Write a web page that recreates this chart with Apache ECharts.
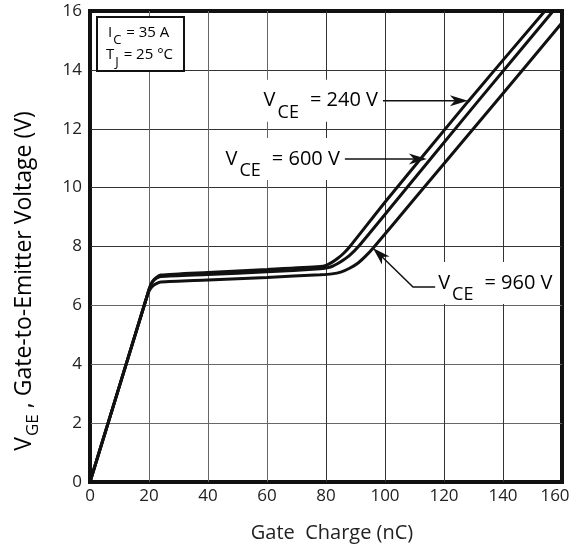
<!DOCTYPE html>
<html><head><meta charset="utf-8">
<script src="https://cdn.jsdelivr.net/npm/echarts@6/dist/echarts.min.js"></script>
<style>html,body{margin:0;padding:0;background:#fff}#c{width:584px;height:548px}</style>
</head><body><div id="c"></div>
<script>
// ---- data ----
const xMin = 0, xMax = 160, xStep = 20;
const yMin = 0, yMax = 16, yStep = 2;
const xTitle = 'Gate  Charge (nC)';
const yTitleMain = 'V';
const yTitleSub = 'GE';
const yTitleRest = ' , Gate-to-Emitter Voltage (V)';
const seriesNames = ['V_CE = 240 V', 'V_CE = 600 V', 'V_CE = 960 V'];
const labelVoltages = ['240 V', '600 V', '960 V'];
const condLine1 = ['I', 'C', ' = 35 A'];
const condLine2 = ['T', 'J', ' = 25 °C'];

const q240 = [0, 19.3, 20.2, 21.2, 22.5, 24, 40, 60, 78, 80, 82, 84, 86, 88.1, 100.6, 128.1, 154.2];
const v240 = [0, 6.3, 6.6, 6.82, 6.95, 7.03, 7.12, 7.22, 7.32, 7.36, 7.46, 7.6, 7.77, 8.0, 9.58, 12.92, 16.0];

const q600 = [0, 19.3, 20.2, 21.2, 22.5, 24, 40, 60, 78, 80, 82, 84, 86, 88, 91, 104, 131, 157];
const v600 = [0, 6.3, 6.6, 6.8, 6.92, 6.98, 7.05, 7.14, 7.24, 7.27, 7.32, 7.42, 7.55, 7.7, 8.0, 9.58, 12.87, 16.0];

const q960 = [0, 19.3, 20.2, 21.2, 22.5, 24, 40, 60, 78, 82, 85, 88, 91, 93.5, 96, 110, 137.5, 160];
const v960 = [0, 6.3, 6.52, 6.65, 6.74, 6.79, 6.86, 6.95, 7.04, 7.07, 7.13, 7.26, 7.45, 7.68, 7.95, 9.62, 12.9, 15.6];

// ---- layout (pixels / anchors in data space for annotations) ----
const FF = '"Open Sans", "Noto Sans", sans-serif';
const INK = '#111';
const GRID = {left: 90, right: 22, top: 11, bottom: 66};
const ann240 = {from: [99.3, 12.95], tip: [128.1, 12.95]};
const ann600 = {from: [86.4, 10.97], tip: [114.2, 10.97]};
const ann960 = {tip: [95.9, 7.95], elbow: [109.5, 6.62], end: [117.0, 6.62]};

const chart = echarts.init(document.getElementById('c'), null, {renderer: 'canvas'});
const pairs = (q, v) => q.map((x, i) => [x, v[i]]);
const dark = '#333', light = '#666';

function lineSeries(name, q, v) {
  return {
    name, type: 'line', data: pairs(q, v), showSymbol: false, smooth: 0.25,
    lineStyle: {color: INK, width: 3}, z: 3, animation: false
  };
}

chart.setOption({
  animation: false,
  backgroundColor: '#fff',
  grid: Object.assign({show: true, borderColor: INK, borderWidth: 4, backgroundColor: '#fff'}, GRID),
  xAxis: {
    type: 'value', min: xMin, max: xMax, interval: xStep,
    axisLine: {show: false}, axisTick: {show: false},
    axisLabel: {fontFamily: FF, fontSize: 17, color: '#222', margin: 6,
      formatter: v => v === xMax ? '{last|' + v + '}' : String(v),
      rich: {last: {fontFamily: FF, fontSize: 17, color: '#222', padding: [0, 14, 0, 0]}}},
    splitLine: {show: true, lineStyle: {width: 1, color: [INK, light, light, light, dark, dark, dark, dark, INK]}}
  },
  yAxis: {
    type: 'value', min: yMin, max: yMax, interval: yStep,
    axisLine: {show: false}, axisTick: {show: false},
    axisLabel: {fontFamily: FF, fontSize: 17, color: '#222', margin: 8},
    splitLine: {show: true, lineStyle: {width: 1, color: [INK, light, light, light, dark, dark, dark, dark, INK]}}
  },
  series: [lineSeries(seriesNames[0], q240, v240), lineSeries(seriesNames[1], q600, v600), lineSeries(seriesNames[2], q960, v960)]
});

const P = p => chart.convertToPixel({gridIndex: 0}, p);

function arrowHead(tip, from, len, hw, notch) {
  const dx = tip[0] - from[0], dy = tip[1] - from[1];
  const L = Math.hypot(dx, dy), ux = dx / L, uy = dy / L, nx = -uy, ny = ux;
  const b = [tip[0] - ux * len, tip[1] - uy * len];
  return {
    points: [tip, [b[0] + nx * hw, b[1] + ny * hw], [tip[0] - ux * notch, tip[1] - uy * notch], [b[0] - nx * hw, b[1] - ny * hw]],
    notch: [tip[0] - ux * notch, tip[1] - uy * notch]
  };
}

const richAnn = {
  v: {fontFamily: FF, fontSize: 20, color: INK},
  s: {fontFamily: FF, fontSize: 18, color: INK, padding: [24, 3, 0, 2]},
  t: {fontFamily: FF, fontSize: 20, color: INK, padding: [0, 0, 0, 8]}
};

const graphics = [];

function straightArrow(a, volt) {
  const f = P(a.from), t = P(a.tip);
  const ah = arrowHead(t, f, 18, 5.5, 13);
  graphics.push({type: 'text', z: 10, x: f[0] - 3, y: f[1], style: {
    text: '{v|V}{s|CE}{t|= ' + volt + '}', rich: richAnn, align: 'right', verticalAlign: 'middle',
    backgroundColor: '#fff', padding: [0, 2, 0, 4]}});
  graphics.push({type: 'polyline', z: 11, shape: {points: [f, ah.notch]}, style: {stroke: INK, lineWidth: 1.5, fill: null}});
  graphics.push({type: 'polygon', z: 11, shape: {points: ah.points}, style: {fill: INK}});
}
straightArrow(ann240, labelVoltages[0]);
straightArrow(ann600, labelVoltages[1]);

(function () {
  const t = P(ann960.tip), e = P(ann960.elbow), n = P(ann960.end);
  const ah = arrowHead(t, e, 18, 5.5, 13);
  graphics.push({type: 'text', z: 10, x: n[0] + 1, y: n[1] - 4, style: {
    text: '{v|V}{s|CE}{t|= ' + labelVoltages[2] + '}', rich: richAnn, align: 'left', verticalAlign: 'middle',
    backgroundColor: '#fff', padding: [0, 3, 0, 2]}});
  graphics.push({type: 'polyline', z: 11, shape: {points: [n, e, ah.notch]}, style: {stroke: INK, lineWidth: 1.5, fill: null}});
  graphics.push({type: 'polygon', z: 11, shape: {points: ah.points}, style: {fill: INK}});
})();

// conditions box
(function () {
  const tl = P([xMin, yMax]);
  const bx = tl[0] + 7, by = tl[1] + 6, bw = 87, bh = 54;
  graphics.push({type: 'rect', z: 10, shape: {x: bx, y: by, width: bw, height: bh}, style: {fill: '#fff', stroke: INK, lineWidth: 2}});
  const richBox = {
    m: {fontFamily: FF, fontSize: 15, color: INK},
    s: {fontFamily: FF, fontSize: 13, color: INK, padding: [14, 1, 0, 1]}
  };
  graphics.push({type: 'text', z: 11, x: bx + 11, y: by + 16, style: {
    text: '{m|' + condLine1[0] + '}{s|' + condLine1[1] + '}{m|' + condLine1[2] + '}', rich: richBox, align: 'left', verticalAlign: 'middle'}});
  graphics.push({type: 'text', z: 11, x: bx + 9, y: by + 38, style: {
    text: '{m|' + condLine2[0] + '}{s|' + condLine2[1] + '}{m|' + condLine2[2] + '}', rich: richBox, align: 'left', verticalAlign: 'middle'}});
})();

// axis titles
(function () {
  const bl = P([xMin, yMin]), br = P([xMax, yMin]);
  graphics.push({type: 'text', z: 10, x: (bl[0] + br[0]) / 2 + 6, y: bl[1] + 51, style: {
    text: xTitle, fontFamily: FF, fontSize: 20, fill: '#222', align: 'center', verticalAlign: 'middle'}});
  graphics.push({type: 'text', z: 10, x: 24, y: 281, rotation: Math.PI / 2, style: {
    text: '{v|' + yTitleMain + '}{s|' + yTitleSub + '}{t|' + yTitleRest + '}',
    rich: {
      v: {fontFamily: FF, fontSize: 23, color: '#222'},
      s: {fontFamily: FF, fontSize: 17, color: '#222', padding: [18, 0, 0, 1]},
      t: {fontFamily: FF, fontSize: 23, color: '#222'}
    }, align: 'center', verticalAlign: 'middle'}});
})();

chart.setOption({graphic: graphics});
</script>
</body></html>
